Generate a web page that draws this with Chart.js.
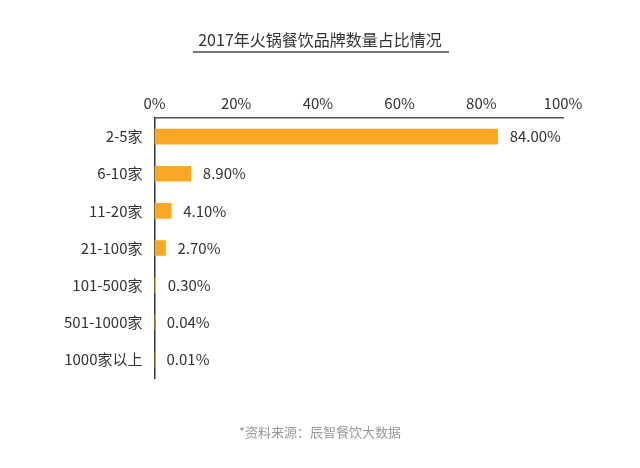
<!DOCTYPE html>
<html lang="zh">
<head>
<meta charset="UTF-8">
<script src="https://cdn.jsdelivr.net/npm/chart.js"></script>
<style>
  body { margin: 0; background: #fff; }
  #wrap { width: 640px; height: 468px; }
</style>
</head>
<body>
<div id="wrap"><canvas id="c"></canvas></div>
<script>
const categories = ['2-5家', '6-10家', '11-20家', '21-100家', '101-500家', '501-1000家', '1000家以上'];
const shares = [84.0, 8.9, 4.1, 2.7, 0.3, 0.04, 0.01];
const shareLabels = ['84.00%', '8.90%', '4.10%', '2.70%', '0.30%', '0.04%', '0.01%'];
const titleText = '2017年火锅餐饮品牌数量占比情况';
const sourceText = '*资料来源：辰智餐饮大数据';
const FONT = '"Noto Sans CJK SC", "Noto Sans", sans-serif';

// title, underline, value labels and source note
const decorations = {
  id: 'decorations',
  afterDraw(chart) {
    const ctx = chart.ctx;
    ctx.save();
    ctx.fillStyle = '#333';
    ctx.font = '16px ' + FONT;
    ctx.textAlign = 'center';
    ctx.textBaseline = 'middle';
    ctx.fillText(titleText, 320, 40);
    ctx.fillStyle = '#777';
    ctx.fillRect(193, 51, 256, 2);

    ctx.font = '15px ' + FONT;
    ctx.fillStyle = '#333';
    ctx.textAlign = 'left';
    const meta = chart.getDatasetMeta(0);
    meta.data.forEach((bar, i) => {
      ctx.fillText(shareLabels[i], bar.x + 12, bar.y);
    });

    ctx.font = '13px ' + FONT;
    ctx.fillStyle = '#999';
    ctx.textAlign = 'center';
    ctx.fillText(sourceText, 320, 432);
    ctx.restore();
  }
};

new Chart(document.getElementById('c'), {
  type: 'bar',
  data: {
    labels: categories,
    datasets: [{
      data: shares,
      backgroundColor: '#f9a825',
      barThickness: 15
    }]
  },
  options: {
    indexAxis: 'y',
    responsive: true,
    maintainAspectRatio: false,
    animation: false,
    layout: { padding: { top: 88, right: 77, bottom: 90, left: 52 } },
    plugins: { legend: { display: false }, tooltip: { enabled: false } },
    scales: {
      x: {
        position: 'top',
        min: 0, max: 100,
        ticks: { stepSize: 20, color: '#333', font: { size: 15, family: FONT }, padding: 6,
                 callback: v => v + '%' },
        grid: { display: false, drawTicks: false },
        border: { color: '#555', width: 1.5 }
      },
      y: {
        ticks: { color: '#333', font: { size: 15, family: FONT }, padding: 12 },
        grid: { display: false, drawTicks: false },
        border: { color: '#333', width: 1.5 }
      }
    }
  },
  plugins: [decorations]
});
</script>
</body>
</html>
